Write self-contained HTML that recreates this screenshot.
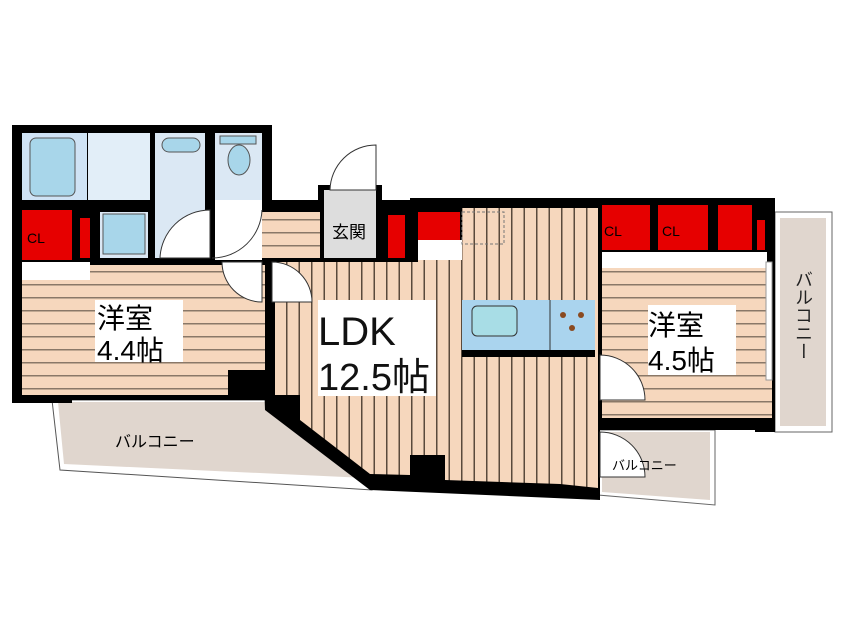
<!DOCTYPE html>
<html><head><meta charset="utf-8"><style>
html,body{margin:0;padding:0;background:#fff;width:846px;height:634px;overflow:hidden}
svg{display:block}
text{font-family:"Liberation Sans","Noto Sans CJK JP",sans-serif}
</style></head><body>
<svg width="846" height="634" viewBox="0 0 846 634" xmlns="http://www.w3.org/2000/svg">
<defs>
<pattern id="h" width="10" height="13" patternUnits="userSpaceOnUse"><rect width="10" height="13" fill="#f6d7bd"/><rect y="11" width="10" height="1.5" fill="#8a7868"/></pattern>
<pattern id="v" width="12.5" height="10" patternUnits="userSpaceOnUse"><rect width="12.5" height="10" fill="#f6d7bd"/><rect x="11" width="1.5" height="10" fill="#5a4a3c"/></pattern>
</defs>
<polygon points="52,400 272,400 372,480 372,490 60,470" fill="#fff" stroke="#555" stroke-width="1"/>
<polygon points="58,402 270,402 366,478 64,464" fill="#e0d6ce"/>
<rect x="775" y="212" width="57" height="220" fill="#fff" stroke="#666"/>
<rect x="780" y="218" width="46" height="208" fill="#e0d6ce"/>
<polygon points="598,430 715,430 715,505 598,495" fill="#fff" stroke="#666"/>
<polygon points="602,432 710,432 710,500 602,492" fill="#e0d6ce"/>
<rect x="12" y="125" width="260" height="275" fill="#000"/>
<rect x="210" y="200" width="200" height="62" fill="#000"/>
<rect x="318" y="185" width="64" height="20" fill="#000"/>
<rect x="410" y="198" width="365" height="62" fill="#000"/>
<rect x="755" y="210" width="20" height="222" fill="#000"/>
<rect x="590" y="250" width="185" height="180" fill="#000"/>
<polygon points="260,258 600,258 600,500 370,490 265,410" fill="#000"/>
<rect x="22" y="133" width="65" height="67" fill="#cfe3f5"/>
<rect x="30" y="138" width="45" height="58" rx="6" fill="#a8d6ea" stroke="#555"/>
<rect x="88" y="133" width="62" height="67" fill="#e2eef8"/>
<rect x="155" y="133" width="50" height="125" fill="#dbe8f4"/>
<rect x="162" y="138" width="38" height="14" rx="7" fill="#a8d6ea" stroke="#555"/>
<rect x="215" y="133" width="47" height="67" fill="#dbe8f4"/>
<rect x="220" y="136" width="36" height="8" fill="#a8d6ea" stroke="#555"/>
<ellipse cx="239" cy="160" rx="11" ry="15" fill="#a8d6ea" stroke="#555"/>
<rect x="100" y="212" width="48" height="46" fill="#dbe8f4"/>
<rect x="103" y="214" width="42" height="40" fill="#a8d6ea" stroke="#555"/>
<rect x="215" y="200" width="47" height="60" fill="#fff"/>
<rect x="22" y="210" width="50" height="50" fill="#e60000"/>
<text x="27" y="243" font-size="14" fill="#000">CL</text>
<rect x="80" y="218" width="10" height="40" fill="#e60000"/>
<rect x="262" y="212" width="58" height="46" fill="url(#h)"/>
<path d="M160,258 A50,50 0 0 1 210,210 L210,258 Z" fill="#fff" stroke="#333"/>
<path d="M262,210 A50,50 0 0 1 212,258" fill="none" stroke="#333"/>
<rect x="324" y="190" width="52" height="68" fill="#ddd"/>
<path d="M330,190 A46,46 0 0 1 376,145 L376,190 Z" fill="#fff" stroke="#333"/>
<text x="332" y="238" font-size="17" fill="#000">玄関</text>
<rect x="388" y="215" width="17" height="43" fill="#e60000"/>
<rect x="22" y="265" width="243" height="130" fill="url(#h)"/>
<rect x="22" y="262" width="68" height="18" fill="#fff"/>
<rect x="228" y="370" width="40" height="30" fill="#000"/>
<rect x="12" y="395" width="60" height="8" fill="#000"/>
<path d="M222,262 A40,40 0 0 0 262,302 L262,262 Z" fill="#fff" stroke="#333"/>
<polygon points="275,262 418,262 418,258 462,258 462,208 598,208 598,488 560,484 445,480 445,455 410,455 410,475 370,474 300,420 300,395 275,395" fill="url(#v)"/>
<rect x="418" y="212" width="42" height="28" fill="#e60000"/>
<rect x="418" y="240" width="44" height="20" fill="#fff"/>
<rect x="462" y="212" width="42" height="32" fill="none" stroke="#777" stroke-dasharray="3,2"/>
<path d="M272,262 A40,40 0 0 1 312,302 L272,302 Z" fill="#fff" stroke="#333"/>
<rect x="462" y="300" width="133" height="50" fill="#aad4ee"/>
<rect x="462" y="350" width="133" height="7" fill="#000"/>
<rect x="472" y="306" width="45" height="30" rx="5" fill="#a8dde6" stroke="#333"/>
<line x1="550" y1="300" x2="550" y2="350" stroke="#333"/>
<circle cx="563" cy="315" r="3" fill="#8a4a20"/><circle cx="581" cy="315" r="3" fill="#8a4a20"/><circle cx="572" cy="328" r="3" fill="#8a4a20"/>
<rect x="318" y="300" width="118" height="96" fill="#fff"/>
<text x="318" y="345" font-size="40" fill="#111">LDK</text>
<text x="318" y="390" font-size="38" fill="#111">12.5帖</text>
<rect x="602" y="262" width="170" height="156" fill="url(#h)"/>
<rect x="602" y="205" width="48" height="45" fill="#e60000"/>
<rect x="658" y="205" width="50" height="45" fill="#e60000"/>
<rect x="718" y="205" width="34" height="45" fill="#e60000"/>
<rect x="757" y="220" width="8" height="30" fill="#e60000"/>
<text x="604" y="236" font-size="14">CL</text>
<text x="662" y="236" font-size="14">CL</text>
<rect x="602" y="252" width="165" height="16" fill="#fff"/>
<rect x="766" y="262" width="6" height="118" fill="#fff" stroke="#999"/>
<path d="M600,355 A45,45 0 0 1 645,400 L600,400 Z" fill="#fff" stroke="#333"/>
<rect x="648" y="305" width="88" height="70" fill="#fff"/>
<text x="648" y="335" font-size="28">洋室</text>
<text x="648" y="370" font-size="28">4.5帖</text>
<rect x="95" y="300" width="88" height="62" fill="#fff"/>
<text x="97" y="328" font-size="28">洋室</text>
<text x="97" y="360" font-size="28">4.4帖</text>
<path d="M600,432 A45,45 0 0 1 645,477 L600,477 Z" fill="#fff" stroke="#333"/>
<text x="612" y="470" font-size="13">バルコニー</text>
<text x="115" y="447" font-size="16">バルコニー</text>
<text x="803" y="270" font-size="18" writing-mode="tb" fill="#222">バルコニー</text>
</svg>
</body></html>
